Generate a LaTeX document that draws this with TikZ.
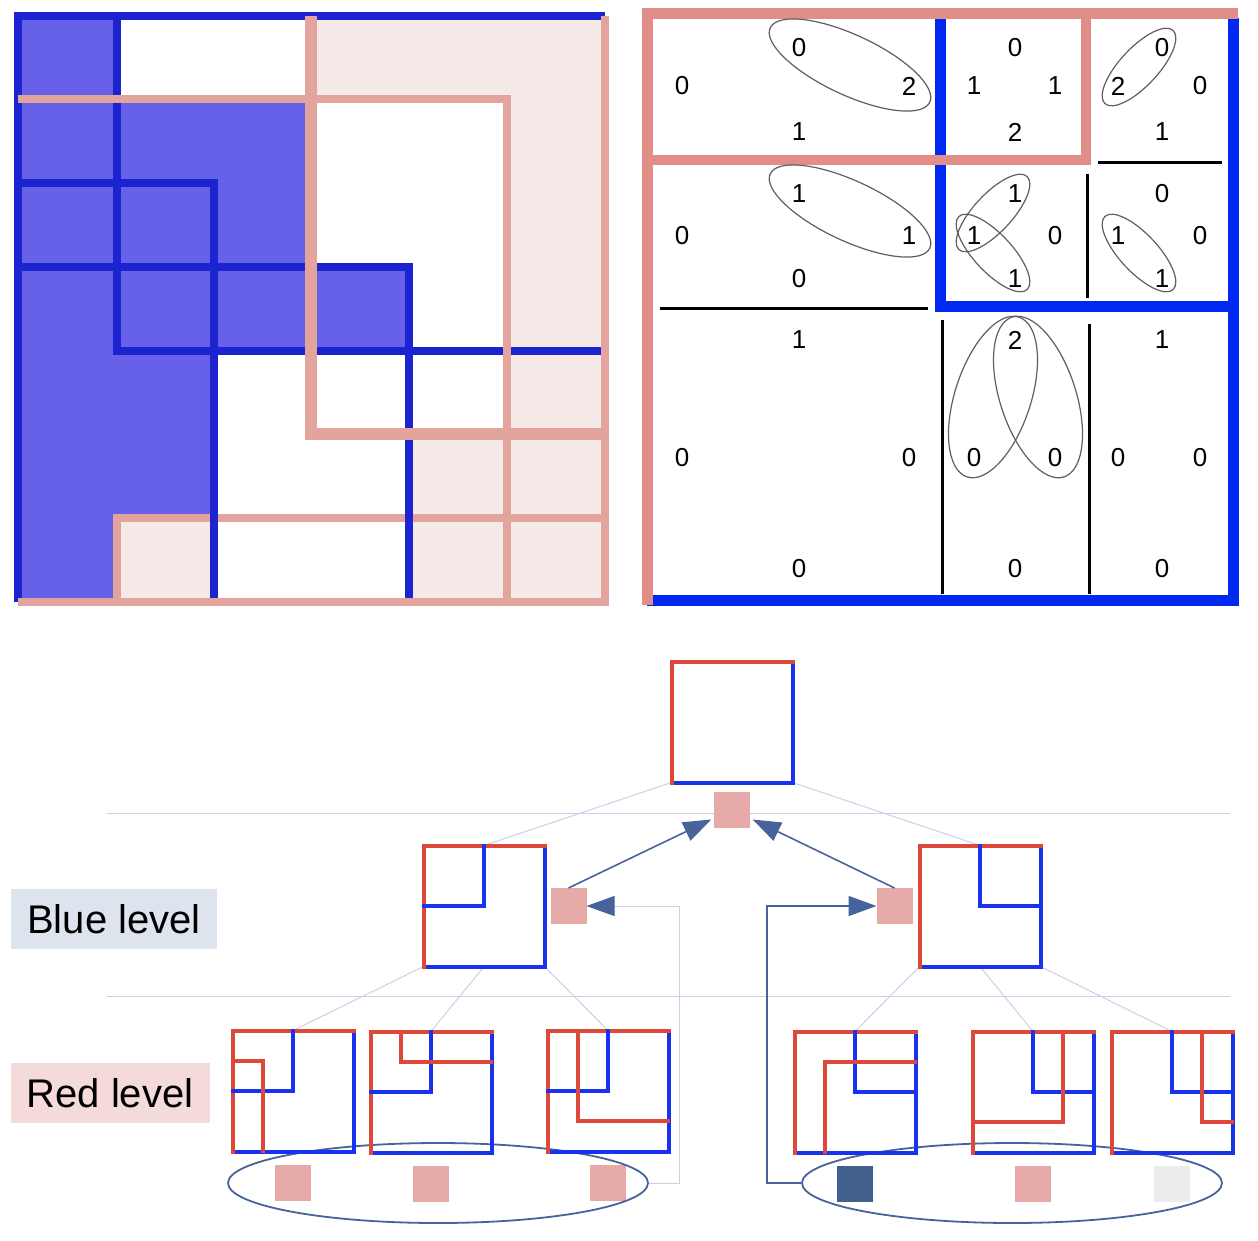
\documentclass[tikz,border=0pt]{standalone}
\usepackage{fontspec}
\setmainfont{Liberation Sans}
\usepackage{tikz}
\usetikzlibrary{positioning, arrows.meta, shapes.geometric}

\definecolor{cellblue}{RGB}{102,97,232}
\definecolor{gridblue}{RGB}{28,36,208}
\definecolor{gridpink}{RGB}{226,164,156}
\definecolor{cellpink}{RGB}{246,234,233}
\definecolor{framepink}{RGB}{226,142,136}
\definecolor{frameblue}{RGB}{0,40,240}
\definecolor{ringgray}{RGB}{95,95,95}
\definecolor{boxred}{RGB}{222,72,58}
\definecolor{boxblue}{RGB}{25,50,240}
\definecolor{sqpink}{RGB}{230,170,168}
\definecolor{sqblue}{RGB}{66,96,142}
\definecolor{sqgray}{RGB}{236,236,236}
\definecolor{arrowblue}{RGB}{70,100,155}
\definecolor{linkgray}{RGB}{200,210,230}
\definecolor{lvlblue}{RGB}{222,228,238}
\definecolor{lvlpink}{RGB}{245,218,218}

\begin{document}
\begin{tikzpicture}[x=1pt, y=-1pt,
    bluegrid/.style={draw=gridblue, line width=8pt},
    pinkgrid/.style={draw=gridpink, line width=8pt},
    blueframe/.style={draw=frameblue, line width=11pt},
    pinkframe/.style={draw=framepink, line width=11pt},
    divider/.style={draw=black, line width=3pt},
    digit/.style={font=\fontsize{26}{30}\selectfont, inner sep=0pt},
    ring/.style={draw=ringgray, line width=1.2pt},
    treebox/.style={minimum size=121pt, inner sep=0pt, outer sep=0pt},
    redside/.style={draw=boxred, line width=4pt, line cap=rect},
    blueside/.style={draw=boxblue, line width=4pt, line cap=rect},
    sqr/.style={fill=sqpink, minimum size=36pt, inner sep=0pt, outer sep=0pt},
    ringnode/.style={ellipse, draw=arrowblue, line width=1.8pt, minimum width=420pt, minimum height=80pt, inner sep=0pt},
    link/.style={draw=linkgray, line width=1pt},
    conn/.style={draw=arrowblue, line width=1.6pt},
    head/.style={-{Triangle[length=28pt, width=20pt, color=arrowblue]}},
    lvl/.style={font=\fontsize{40}{48}\selectfont, minimum height=60pt, inner sep=0pt}
]
    \fill[white] (0,0) rectangle (1258,1240);

    \fill[cellblue] (18,16) -- (117,16) -- (117,99) -- (311,99) -- (311,267) -- (409,267)
        -- (409,351) -- (214,351) -- (214,518) -- (117,518) -- (117,602) -- (18,602) -- cycle;
    \fill[cellpink] (311,16) rectangle (605,99) (507,99) rectangle (605,434)
        (409,434) rectangle (605,602) (117,518) rectangle (214,602);
    \draw[pinkgrid] (117,602) -- (117,518) -- (605,518);
    \draw[bluegrid] (18,602) -- (18,16) -- (605,16);
    \draw[bluegrid] (117,16) -- (117,351) -- (605,351);
    \draw[bluegrid] (18,183) -- (214,183) -- (214,602);
    \draw[bluegrid] (18,267) -- (409,267) -- (409,602);
    \draw[pinkgrid] (18,99) -- (507,99) -- (507,602);
    \draw[pinkgrid] (605,16) -- (605,602) -- (18,602);
    \draw[pinkgrid, line width=12pt] (311,16) -- (311,434) -- (605,434);

    \draw[blueframe] (647,600) -- (1233,600) -- (1233,18);
    \draw[blueframe] (940,18) -- (940,306) -- (1238,306);
    \draw[pinkframe] (647,605) -- (647,13) -- (1238,13);
    \draw[pinkframe, line width=10pt] (647,160) -- (1086,160) -- (1086,13);
    \draw[divider] (1098,162) -- (1222,162);
    \draw[divider] (660,308) -- (928,308);
    \draw[divider] (1087,174) -- (1087,298);
    \draw[divider] (942,320) -- (942,594);
    \draw[divider] (1089,324) -- (1089,594);

    \foreach \x/\y/\v [count=\i] in {682/86/0, 799/48/0, 909/86/2, 799/132/1,
        1015/48/0, 974/86/1, 1055/86/1, 1015/132/2,
        1162/48/0, 1118/86/2, 1200/86/0, 1162/132/1,
        799/194/1, 682/236/0, 909/236/1, 799/279/0,
        1015/194/1, 974/236/1, 1055/236/0, 1015/279/1,
        1162/194/0, 1118/236/1, 1200/236/0, 1162/279/1,
        799/340/1, 682/458/0, 909/458/0, 799/569/0,
        1015/340/2, 974/458/0, 1055/458/0, 1015/569/0,
        1162/340/1, 1118/458/0, 1200/458/0, 1162/569/0}
        \node[digit] (d\i) at (\x,\y) {\v};

    \draw[ring, rotate around={-25:(850,65)}] (850,65) ellipse (88 and 30);
    \draw[ring, rotate around={-25:(850,211)}] (850,211) ellipse (88 and 30);
    \draw[ring, rotate around={47:(1139,67)}] (1139,67) ellipse (50 and 19);
    \draw[ring, rotate around={47:(993,213)}] (993,213) ellipse (50 and 19);
    \draw[ring, rotate around={-47:(993,253)}] (993,253) ellipse (50 and 19);
    \draw[ring, rotate around={-47:(1139,253)}] (1139,253) ellipse (50 and 19);
    \draw[ring, rotate around={72:(993,397)}] (993,397) ellipse (84 and 38);
    \draw[ring, rotate around={108:(1038,397)}] (1038,397) ellipse (84 and 38);

    \draw[link] (107,813) -- (1230,813);
    \draw[link] (107,996) -- (1230,996);

    \node[lvl, fill=lvlblue, minimum width=206pt] (bluelvl) at (114,919) {Blue level};
    \node[lvl, fill=lvlpink, minimum width=199pt] (redlvl) at (110,1093) {Red level};

    \node[treebox] (top) at (732,722) {};
    \node[treebox] (bl) at (484,906) {};
    \node[treebox] (br) at (980,906) {};
    \node[treebox] (ra) at (293,1091) {};
    \node[treebox] (rb) at (431,1092) {};
    \node[treebox] (rc) at (608,1091) {};
    \node[treebox] (rd) at (855,1092) {};
    \node[treebox] (re) at (1033,1092) {};
    \node[treebox] (rf) at (1172,1092) {};

    \node[sqr, below=9pt of top] (tsq) {};
    \node[sqr, right=6pt of bl] (lsq) {};
    \node[sqr, left=7pt of br] (rsq) {};
    \node[sqr, below=13pt of ra] (sa) {};
    \node[sqr, below=13pt of rb] (sb) {};
    \node[sqr, below=13pt of rc] (sc) {};
    \node[sqr, fill=sqblue, below=13pt of rd] (sd) {};
    \node[sqr, below=13pt of re] (se) {};
    \node[sqr, fill=sqgray, below=13pt of rf] (sf) {};

    \node[ringnode] (eL) at (438,1183) {};
    \node[ringnode] (eR) at (1012,1183) {};
    \coordinate (lbend) at (679,1183);
    \coordinate (rbend) at (767,1183);

    \draw[link] (top.south west) -- (bl.north);
    \draw[link] (top.south east) -- (br.north);
    \foreach \a/\b in {south west/ra, south/rb, south east/rc}
        \draw[link] (bl.\a) -- (\b.north);
    \foreach \a/\b in {south west/rd, south/re, south east/rf}
        \draw[link] (br.\a) -- (\b.north);

    \foreach \b in {top,bl,br,ra,rb,rc,rd,re,rf} {
        \draw[blueside] (\b.north east) -- (\b.south east) -- (\b.south west);
        \draw[redside] (\b.south west) -- (\b.north west) -- (\b.north east);
    }
    \draw[blueside, shift={(bl.north west)}] (60,0) |- (0,60);
    \draw[blueside, shift={(br.north west)}] (60,0) |- (120,60);
    \draw[blueside, shift={(ra.north west)}] (60,0) |- (0,60);
    \draw[redside, shift={(ra.north west)}] (0,30) -| (30,120);
    \draw[blueside, shift={(rb.north west)}] (60,0) |- (0,60);
    \draw[redside, shift={(rb.north west)}] (30,0) |- (120,30);
    \draw[blueside, shift={(rc.north west)}] (60,0) |- (0,60);
    \draw[redside, shift={(rc.north west)}] (30,0) |- (120,90);
    \draw[blueside, shift={(rd.north west)}] (60,0) |- (120,60);
    \draw[redside, shift={(rd.north west)}] (120,30) -| (30,120);
    \draw[blueside, shift={(re.north west)}] (60,0) |- (120,60);
    \draw[redside, shift={(re.north west)}] (90,0) |- (0,90);
    \draw[blueside, shift={(rf.north west)}] (60,0) |- (120,60);
    \draw[redside, shift={(rf.north west)}] (90,0) |- (120,90);

    \draw[conn, head, shorten >=3pt] (lsq.north) -- (tsq);
    \draw[conn, head, shorten >=3pt] (rsq.north) -- (tsq);
    \draw[link, head] (eL.east) -- (lbend) |- (lsq.east);
    \draw[conn, head] (eR.west) -- (rbend) |- (rsq.west);
\end{tikzpicture}
\end{document}
